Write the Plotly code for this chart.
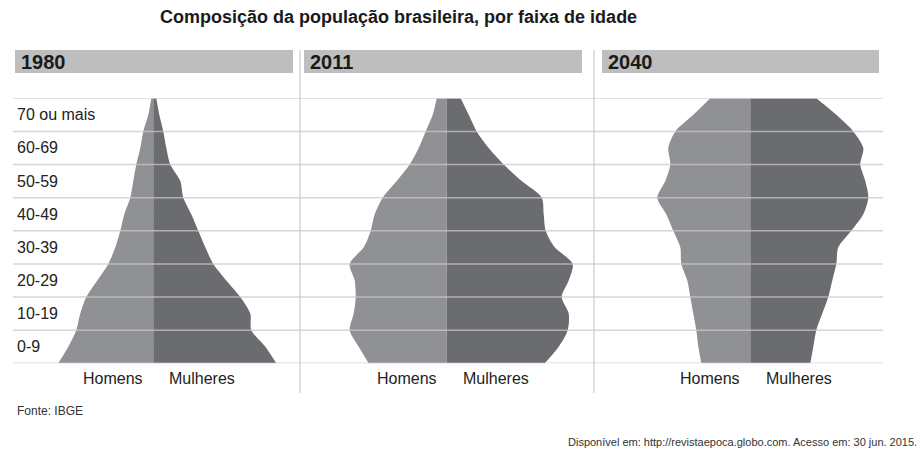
import plotly.graph_objects as go

W, H = 923, 456
FONT = "Liberation Sans, Arial, sans-serif"

faixas = ["0-9", "10-19", "20-29", "30-39", "40-49", "50-59", "60-69", "70 ou mais"]
anos = ["1980", "2011", "2040"]

# pontos do contorno ao longo do eixo das idades (0 = base, 8 = topo)
perfil_y = [0, 0.5, 1, 1.5, 2, 2.5, 3, 3.5, 4, 4.5, 5, 5.5, 6, 6.5, 7, 7.5, 8]

# largura de cada metade da pirâmide
homens_1980 = [95, 85, 77, 73, 67, 56, 45, 38, 33, 29, 23, 20, 17, 13, 10, 5, 2]
mulheres_1980 = [123, 112, 98, 97, 87, 73, 60, 52, 45, 38, 30, 27, 17, 13, 10, 6, 3]

homens_2011 = [78, 88, 97, 93, 91, 92, 97, 83, 76, 72, 64, 50, 37, 28, 21, 14, 10]
mulheres_2011 = [98, 112, 121, 122, 115, 122, 126, 108, 99, 97, 95, 75, 57, 42, 30, 22, 14]

homens_2040 = [49, 52, 54, 57, 60, 63, 69, 70, 77, 84, 93, 85, 80, 82, 75, 57, 40]
mulheres_2040 = [60, 63, 66, 72, 78, 82, 86, 88, 101, 113, 118, 115, 110, 113, 103, 86, 66]

homens = [homens_1980, homens_2011, homens_2040]
mulheres = [mulheres_1980, mulheres_2011, mulheres_2040]

COR_HOMENS = "#909194"
COR_MULHERES = "#6b6c70"

# geometria dos painéis em pixels: (esquerda, direita, centro, faixa do título)
paineis = [
    dict(x0=13, x1=300, centro=153.3, cab=(15, 293)),
    dict(x0=300, x1=594, centro=446.7, cab=(304, 582)),
    dict(x0=594, x1=883, centro=750.3, cab=(602, 879)),
]
GRID_TOP, GRID_BOTTOM = 98.3, 363.3


def px_x(p):
    return p / W


def px_y(p):
    return 1 - p / H


fig = go.Figure()
shapes = []
annotations = []

for i, (ano, painel) in enumerate(zip(anos, paineis)):
    n = "" if i == 0 else str(i + 1)
    fig.add_trace(go.Scatter(
        x=[-v for v in homens[i]], y=perfil_y, xaxis="x" + n, yaxis="y" + n,
        mode="lines", line=dict(width=0, shape="spline", smoothing=0.8),
        fill="tozerox", fillcolor=COR_HOMENS, hoverinfo="skip", showlegend=False,
    ))
    fig.add_trace(go.Scatter(
        x=mulheres[i], y=perfil_y, xaxis="x" + n, yaxis="y" + n,
        mode="lines", line=dict(width=0, shape="spline", smoothing=0.8),
        fill="tozerox", fillcolor=COR_MULHERES, hoverinfo="skip", showlegend=False,
    ))

    c = painel["centro"]
    fig.update_layout({
        "xaxis" + n: dict(
            domain=[px_x(painel["x0"]), px_x(painel["x1"])],
            range=[painel["x0"] - c, painel["x1"] - c],
            visible=False, fixedrange=True,
        ),
        "yaxis" + n: dict(
            domain=[px_y(GRID_BOTTOM), px_y(GRID_TOP)],
            range=[0, len(faixas)], anchor="x" + n,
            visible=False, fixedrange=True,
        ),
    })

    # faixa cinza com o ano
    shapes.append(dict(
        type="rect", xref="paper", yref="paper",
        x0=px_x(painel["cab"][0]), x1=px_x(painel["cab"][1]),
        y0=px_y(73), y1=px_y(50), fillcolor="#bebebe", line=dict(width=0),
    ))
    annotations.append(dict(
        text="<b>%s</b>" % ano, xref="paper", yref="paper",
        x=px_x(painel["cab"][0] + 4), y=px_y(62), xanchor="left", yanchor="middle",
        showarrow=False, font=dict(size=20, color="#1a1a1a", family=FONT),
    ))
    annotations.append(dict(
        text="Homens", xref="x" + n, yref="paper", x=-8, y=px_y(378),
        xanchor="right", yanchor="middle", showarrow=False,
        font=dict(size=16, color="#222222", family=FONT),
    ))
    annotations.append(dict(
        text="Mulheres", xref="x" + n, yref="paper", x=14, y=px_y(378),
        xanchor="left", yanchor="middle", showarrow=False,
        font=dict(size=16, color="#222222", family=FONT),
    ))

# separadores verticais
for painel in paineis[1:]:
    shapes.append(dict(
        type="line", xref="paper", yref="paper",
        x0=px_x(painel["x0"]), x1=px_x(painel["x0"]), y0=px_y(50), y1=px_y(393),
        line=dict(color="#d6d6d6", width=1.5),
    ))

# linhas horizontais entre as faixas etárias, por cima das pirâmides
for k in range(len(faixas) + 1):
    shapes.append(dict(
        type="line", xref="paper", yref="y", layer="above",
        x0=px_x(paineis[0]["x0"]), x1=px_x(paineis[-1]["x1"]), y0=k, y1=k,
        line=dict(color="rgba(200,200,200,0.75)", width=1.5),
    ))

# rótulos das faixas no primeiro painel
for k, faixa in enumerate(faixas):
    annotations.append(dict(
        text=faixa, xref="paper", yref="y", x=px_x(15), y=k + 0.5,
        xanchor="left", yanchor="middle", showarrow=False,
        font=dict(size=16, color="#222222", family=FONT),
    ))

annotations.append(dict(
    text="<b>Composição da população brasileira, por faixa de idade</b>",
    xref="paper", yref="paper", x=px_x(398), y=px_y(17),
    xanchor="center", yanchor="middle", showarrow=False,
    font=dict(size=18, color="#1a1a1a", family=FONT),
))
annotations.append(dict(
    text="Fonte: IBGE", xref="paper", yref="paper", x=px_x(15), y=px_y(411),
    xanchor="left", yanchor="middle", showarrow=False,
    font=dict(size=12, color="#333333", family=FONT),
))
annotations.append(dict(
    text="Disponível em: http://revistaepoca.globo.com. Acesso em: 30 jun. 2015.",
    xref="paper", yref="paper", x=px_x(919), y=px_y(442),
    xanchor="right", yanchor="middle", showarrow=False,
    font=dict(size=11, color="#333333", family=FONT),
))

fig.update_layout(
    width=W, height=H,
    margin=dict(l=0, r=0, t=0, b=0),
    paper_bgcolor="white", plot_bgcolor="rgba(0,0,0,0)",
    shapes=shapes, annotations=annotations,
    showlegend=False,
)

# a página não deve ter margem, para o gráfico ocupar a janela toda
fig.write_html(
    "out.html",
    config={"displayModeBar": False},
    post_script="document.body.style.margin = '0';",
)
